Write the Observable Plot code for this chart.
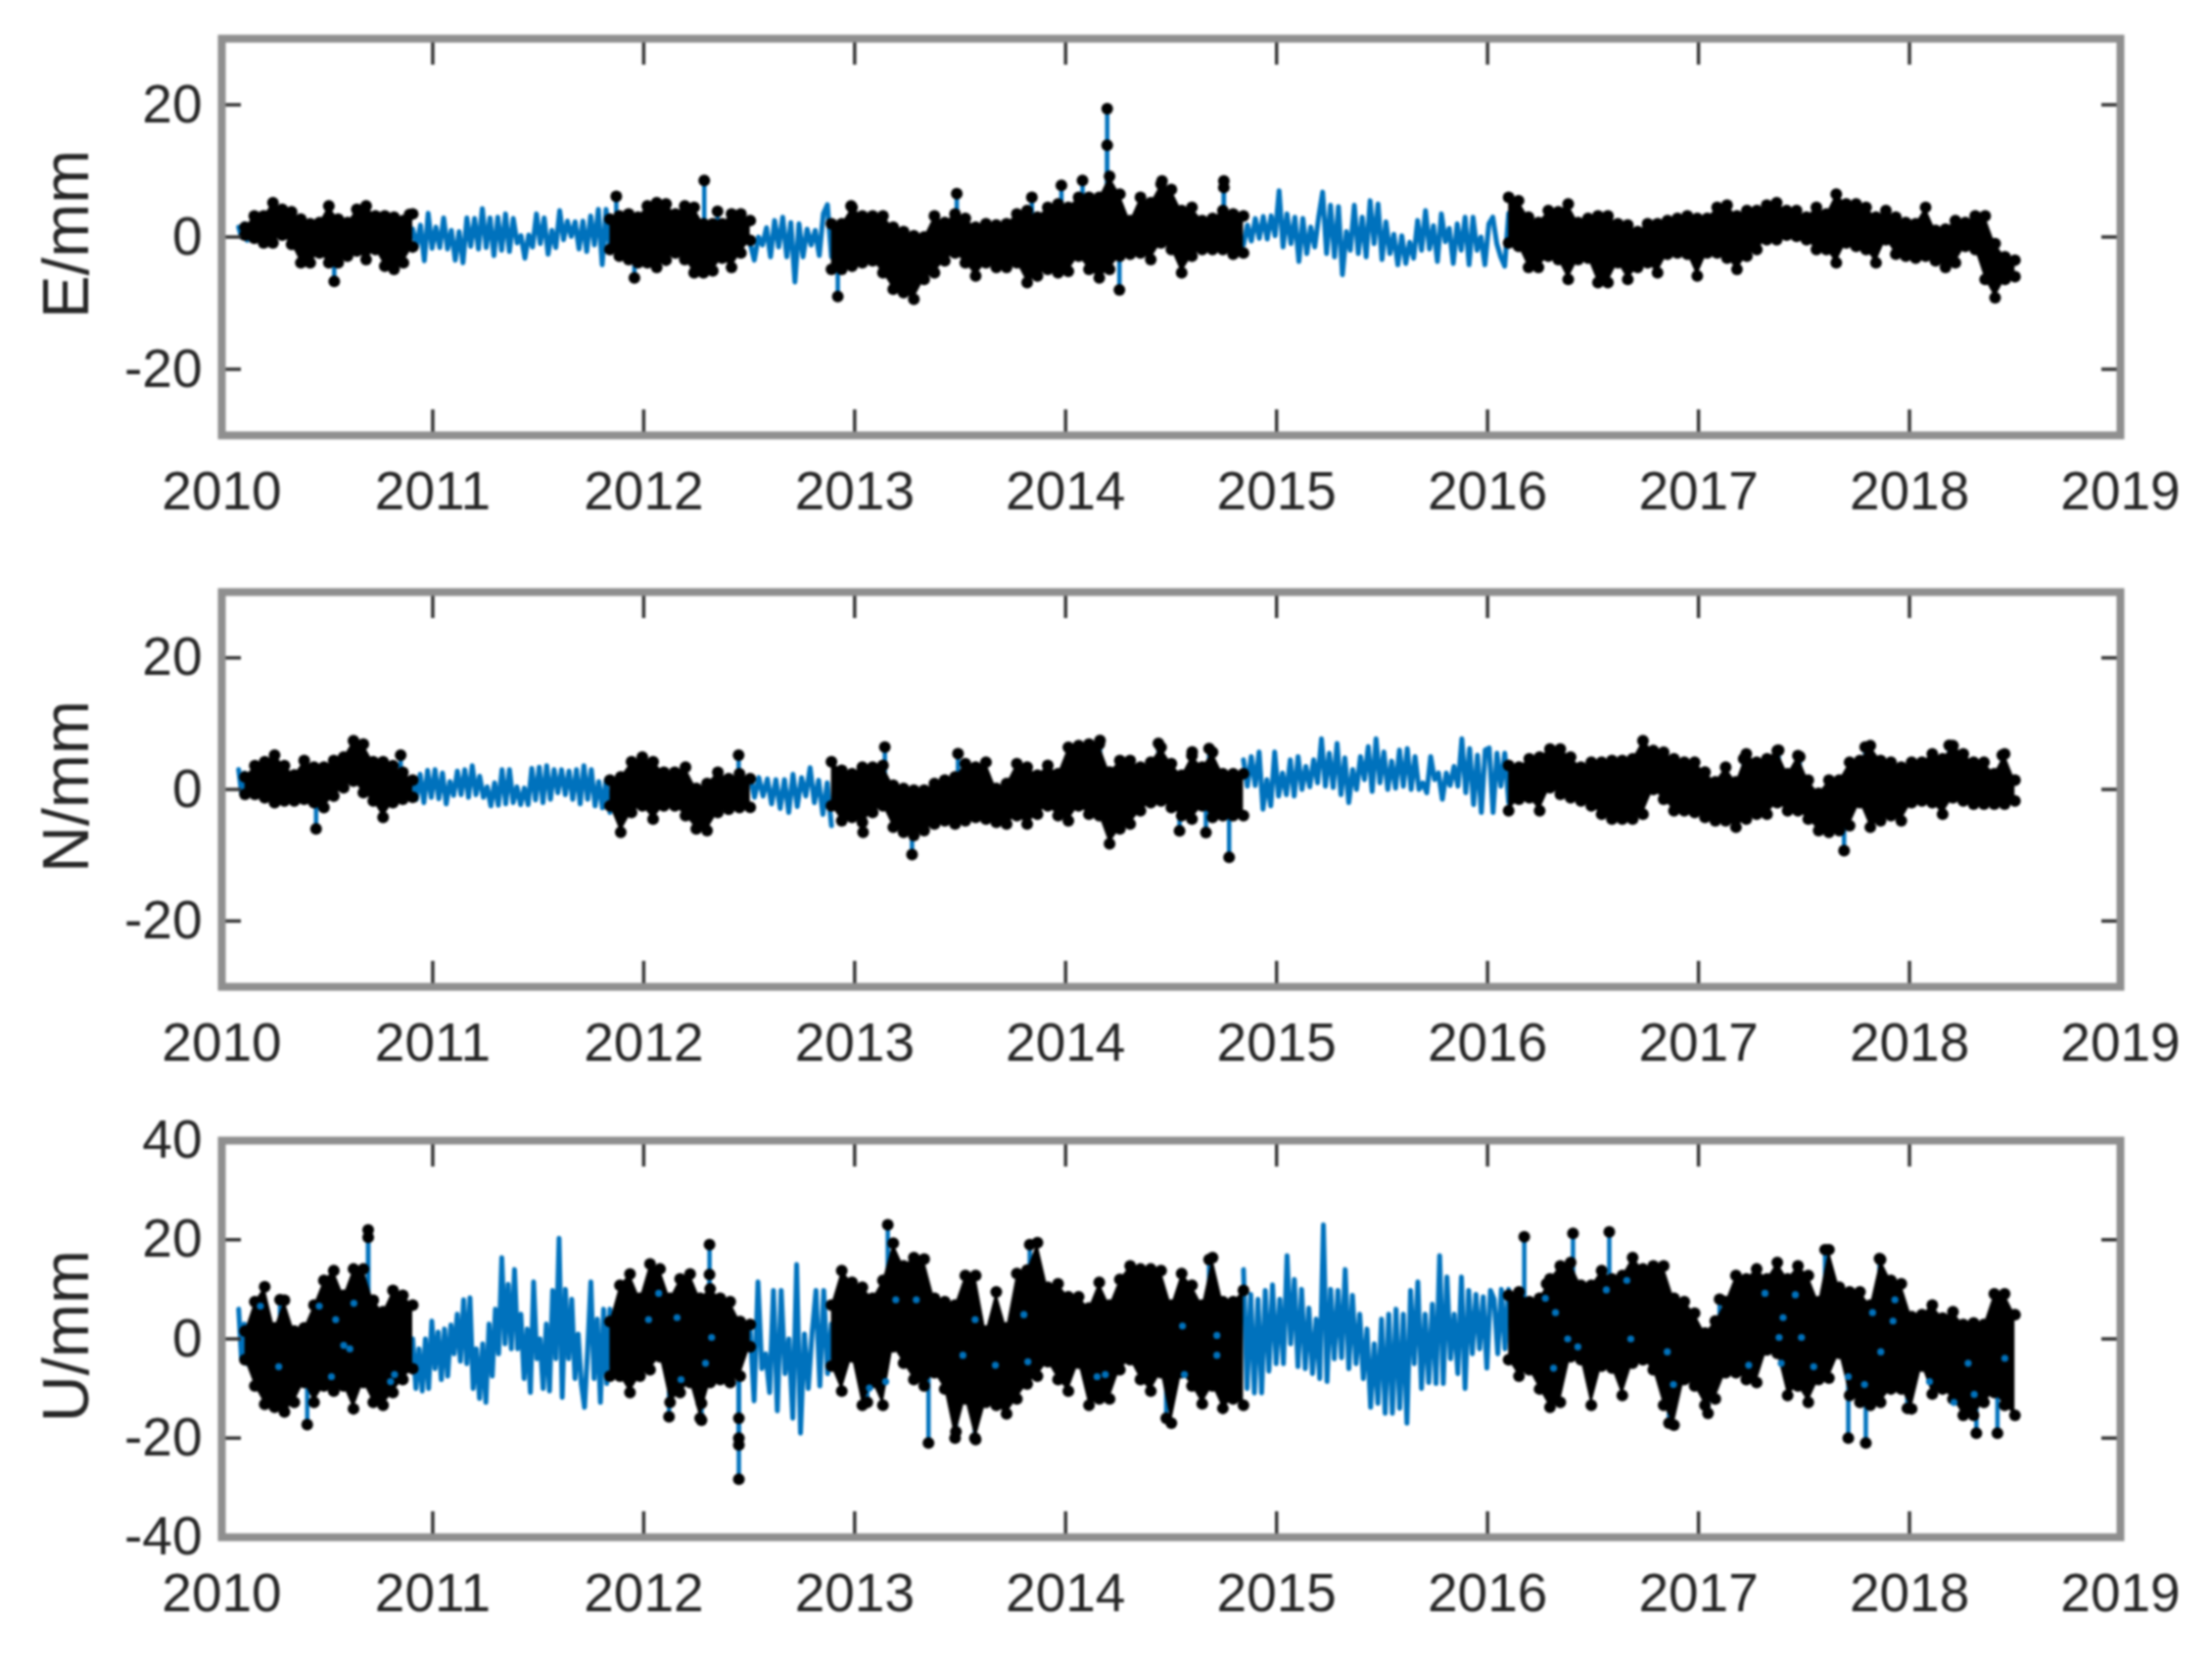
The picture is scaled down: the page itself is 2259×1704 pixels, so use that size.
<!DOCTYPE html>
<html>
<head>
<meta charset="utf-8">
<script src="https://cdn.jsdelivr.net/npm/d3@7"></script>
<script src="https://cdn.jsdelivr.net/npm/@observablehq/plot@0.6"></script>
<style>
html,body{margin:0;padding:0;background:#fff;}
#chart svg{display:block;filter:blur(1.3px);}
</style>
</head>
<body>
<div id="chart"></div>
<script>
// Time spans (decimal years) of the observed (black) and interpolated (blue) stretches
const blackStart = [2010.11, 2011.84, 2012.89, 2016.10];
const blackEnd   = [2010.905, 2012.505, 2014.843, 2018.5];
const blueStart  = [2010.08, 2010.905, 2012.505, 2014.843];
const blueEnd    = [2010.12, 2011.84, 2012.89, 2016.10];
const yearTicks  = [2010,2011,2012,2013,2014,2015,2016,2017,2018,2019];

// E/mm
const eHi = [
 [1.5,3.2,3.2,5.2,4.2,3.8,2.7,2,2.2,4.7,2.7,2.2,4.2,4.7,3.2,3.2,3.0,2.5,3.5],
 [2.7,3.2,3.5,3,4.7,5.2,5,3.5,4.7,4.5,2,2,2,3.5,3.5,2.5],
 [2,2,4.5,3.2,3.2,3.2,1.5,.8,.2,0,3.2,2.2,3.5,2.8,1.5,2,1.8,2,3.5,4,3,4.5,5,4.5,6,6,6,9.2,6.5,2.5,6,5.2,8,7.2,4,4.5,2.5,2.8,4,3.5,3.2],
 [6,5.5,3,2.2,4,3.8,5,2.2,2.8,3.2,3.2,2,1.8,.8,2,2,2.5,2.8,3.2,2.8,2.8,4.5,4.8,3.2,4,4,4.8,5.2,4,4,3,4.5,3.5,6.5,5,5,4.5,3,4,3,2.2,2,4.5,1,1.2,2.5,2.2,3.2,3.2,-1,-3,-3.5]
];
const eLo = [
 [.3,-.2,-.9,-.9,.3,-1.1,-3.9,-3.9,-2.4,-3.9,-3.9,-2.9,-2.1,-3.4,-1.9,-4.4,-4.9,-3.9,-1.5],
 [-1.9,-2.9,-3.4,-3.9,-3.9,-4.6,-3.5,-2.4,-3.4,-5.4,-5.4,-5.1,-3.2,-4.6,-2.4,-.5],
 [-4.9,-4.9,-4.4,-3.9,-3.6,-5.4,-7.9,-8.4,-9.4,-6.4,-5.4,-3.6,-2.4,-3.9,-5.9,-3.9,-4.6,-4.6,-3.9,-6.9,-5.9,-4.9,-5.4,-5.2,-2.9,-4.9,-6.2,-4.9,-2.9,-2.6,-2.4,-3.4,-.9,-1.9,-5.4,-2.9,-1.9,-1.9,-1.9,-2.6,-2.4],
 [-.9,-1.4,-4.6,-4.6,-2.9,-3.4,-6.4,-3.4,-3.2,-6.9,-6.9,-3.9,-6.4,-4.6,-3.9,-5.4,-2.6,-2.4,-2.6,-5.9,-2.4,-2.4,-3.2,-4.9,-2.9,-1.9,-.4,-.4,.3,.1,-.4,-1.9,-1.9,-3.9,-.9,-1.4,-1.9,-3.9,-.4,-2.6,-2.9,-3.2,-2.9,-3.6,-4.6,-3.9,-1.4,-1.9,-6.4,-9.2,-6.4,-6]
];
const eBlue = [
 [1.5,0,2,-.5],
 [1.2,-1.5,1.8,-3.6,3.6,-1.7,1.5,-1.6,2.9,-1.8,1.0,-3.5,0.8,-3.9,2.9,-1.4,2.8,-1.8,4.3,-1.6,2.9,-2.8,3.0,-2.0,3.5,-2.2,2.8,-0.9,0.2,-3.2,0.3,-1.5,3.5,-1.0,2.9,-2.6,1.0,-1.6,4.0,-0.4,2.4,0.1,2.3,-1.8,2.4,-2.2,3.2,-1.2,4.2,-4.2,4.2,-2.2],
 [-1,-3.5,0,-1.2,1.4,-3,2.5,-1.5,3,-3,2.2,-6.8,2,-3,1.2,-1.2,1,-2.8,3.5,4.9,-3],
 [-1.2,1.8,-0.6,2.8,-0.2,3.1,-0.3,3.2,0.2,7,-1.5,3.5,-1,3,-3.7,2.8,-2.5,1.5,-1.5,3,6.8,-2.5,4.8,-3,4.6,-5.7,0.8,-2,4.8,-2.5,3,-3,5.5,-1,5,-3.4,2.3,-2.5,0.4,-4.2,0.2,-4,-0.8,-3.2,2.5,-2,4,-1.8,1.7,-3.7,3.5,-0.7,1.3,-4,2,-2,3,-4.2,3,-2,0,-4.2,2,3,-1,-3,-4.4,3.6]
];
const eOutYears  = [2010.533,2010.89,2011.87,2011.956,2012.287,2012.35,2012.92,2012.983,2013.484,2013.84,2013.98,2014.08,2014.197,2014.197,2014.255,2014.457,2014.75,2014.75];
const eOutValues = [-6.7,3.4,6.15,-6.2,8.55,3.9,-9,4.7,6.55,6,7.8,8.55,19.4,13.9,-8,8.5,8.5,7.5];

// N/mm
const nHi = [
 [1.9,3.6,4.2,5.2,3.6,2.2,4.4,3.4,3.4,4.4,4.9,7.4,6.9,4.2,4.2,3.6,2.6,1.4],
 [1.4,1.9,4.2,4.9,4.2,2.6,2.6,3.4,.15,.9,2.6,1.65,2.4,1.65],
 [4.2,2.9,2.4,3.4,3.4,3.65,.65,.15,-.1,-.1,.9,1.4,1.9,3.9,3.4,4.15,.15,.9,3.9,3.4,2.15,3.65,2.4,6.4,6.65,6.9,6.9,2.65,4.4,4.4,3.4,4.15,6.4,3.9,2.15,5.15,3.4,5.65,2.4,2.4,2.4],
 [3.65,3.4,4.65,4.9,6.15,6.15,4.9,3.4,4.15,4.15,4.4,4.4,4.65,7.4,5.9,5.65,4.65,4.15,4.15,2.65,1.15,3.4,1.15,5.4,4.15,4.65,5.9,2.4,5.15,1.4,-.6,1.4,1.4,4.15,4.4,6.65,4.4,4.15,3.4,4.15,4.15,5.4,4.65,6.65,5.4,4.15,4.15,2.4,5.4,1.4]
];
const nLo = [
 [-.75,-.75,-1.25,-2,-1.75,-1.75,-1.5,-2,-2.75,-1,.25,1.25,-.5,-1.75,-4.25,-2,-1.5,-1.2],
 [-2.5,-6.5,-3.5,-2.5,-4.5,-2.5,-2.5,-4,-6,-6.25,-3.5,-3,-2.75,-2.7],
 [-2.5,-4.75,-4.25,-5,-3.5,-2.5,-5.75,-6.5,-7,-6.25,-5.25,-4.75,-5.25,-4.75,-4.25,-4.5,-5,-5.25,-4,-5.25,-3.75,-2.5,-4,-4.75,-2.5,-3.75,-4,-8.25,-6,-5.25,-3.25,-2,-1.75,-2.75,-4,-4.5,-2.5,-4.25,-4,-4,-4],
 [-3.25,-1.5,-1.25,-3.25,.25,-.75,-1.25,-1.75,-2.5,-3.75,-4.5,-4.5,-4.5,-3.75,0,-1.5,-3.25,-3.25,-3.5,-4.25,-4.75,-4.75,-5.75,-4.5,-3.75,-3.75,-2,-3.25,-3.25,-4.5,-6.25,-6.5,-6.25,-5.5,-2,-5.75,-4.75,-4,-4.75,-2,-1.75,-2,-3.75,-1.25,-1.75,-2.25,-2.25,-2.25,-2.25,-1.75]
];
const nBlue = [
 [3,-.5,2.5,0],
 [1.6,-1.5,2.3,-2,2.9,-1.2,3,-1.4,2.5,-2.2,1.2,-0.9,2.8,-0.8,3.0,-1.2,3.6,-0.8,2,-1.2,0.4,-2.5,1,-2.4,3,-2.2,3.0,-2.0,0.4,-2.3,0.2,-2.3,3.2,-1.6,3.4,-2.0,3.6,-1.5,3,-0.5,3,-0.8,2.8,-1.5,3,-2.2,3.6,-1.5,3,-2.5,1.2,-2.8,1.5,-3.5],
 [2,-1.2,1.8,-1,1.6,-2.2,1.5,-2.9,1.5,-3.5,2.3,-2.6,1.8,-1,3.3,-2,1.4,-3.8,1,-5.5],
 [4.5,0.5,5,0.6,5.7,-3,1.5,-2.5,5.7,-1,2.5,-0.8,4.5,-1,5,0,3.5,0.4,4.5,1,7.7,0.5,5.5,0.3,7,-0.8,4.8,-2,3,0,5,1.5,6.5,-0.3,7.7,1,5.7,0,4.3,0.2,6,0.5,6.2,0,5,0,1,-0.5,5,1.5,2.5,-1.5,2.5,0.6,3.5,0.5,7.7,-0.5,6.2,-2.3,5.2,-3.5,6,6.3,-3.5,5.5,0.5,5.5,-2]
];
const nOutYears  = [2010.447,2010.848,2012.45,2013.04,2013.143,2013.272,2013.49,2014.163,2014.44,2014.54,2014.6,2014.665,2014.68,2014.775,2017.214,2017.38,2017.48,2017.69,2017.79,2018.188,2018.44];
const nOutValues = [-6,5.2,5.2,-6.5,6.45,-9.9,5.45,7.45,7,-6.3,5.7,-6.55,6.2,-10.3,4.65,5.95,4.95,-9.3,6.45,6.7,5.2];

// U/mm
const uHi = [
 [1.6,7.5,10.5,2.2,7.8,1.6,2.2,6.8,11.8,13.8,8.8,14.1,14.1,7.8,5.5,9.8,8.8,6.8],
 [3.5,10.8,13.1,8.2,15.1,14.1,8.2,12.1,13.1,8.2,10.1,8.2,7.5,3.5,2.9],
 [6.8,13.8,11.4,10.4,8.2,11.8,19.3,14.7,16.4,16.1,8.2,7.5,6.8,12.8,12.8,1.6,9.5,2.2,13.2,13.9,19.4,10.4,11.1,8.5,8.5,6.2,11.4,6.8,12,14.7,14.1,14.1,13.8,6.8,13.2,10.8,6.8,16.4,7.5,7.5,9.8],
 [8.8,9.5,7.5,8.2,12.1,14.7,15.4,10.8,10.8,13.8,12.1,12.8,16.4,14.1,14.7,14.7,8.2,7.5,5.2,1.2,3.6,7.5,12.8,12.1,14.1,12.1,15.4,12.1,14.7,12.8,7.5,18.0,10.4,9.5,9.5,6.8,16,11.8,11.1,4.5,4.9,6.8,4.2,5.5,2.9,3.2,2.9,9.1,9.1,4.9]
];
const uLo = [
 [-4.2,-9.5,-13.2,-13.8,-14.7,-12.8,-8.8,-12.8,-9.5,-10.5,-9.5,-14.1,-8.8,-12.8,-13.4,-10.8,-8.2,-6],
 [-7.5,-7.5,-10.8,-7.5,-6.2,-3.6,-12.8,-10.8,-8.8,-16,-8.8,-8.2,-8.8,-7.5,-1.6],
 [-5.5,-10.5,-3.6,-13.4,-8.8,-13.4,-1.6,-4.9,-8.2,-9.5,-6.8,-10.1,-20,-12.1,-20.3,-12.8,-13.4,-15.1,-12.1,-9.1,-7.5,-4.6,-8.2,-10.5,-4.9,-13.4,-12.1,-12.1,-6.2,-4.2,-8.2,-10.5,-6.8,-17,-6.8,-9.5,-13.1,-9.5,-14,-12.1,-13.4],
 [-4.2,-7.5,-6.2,-10.1,-13.8,-12.8,-3.6,-4.2,-13.4,-5.5,-5.9,-11.4,-4.9,-4.2,-6.2,-13.4,-17.4,-8.2,-9.5,-13.4,-12.1,-6.8,-6.8,-8.2,-8.8,-2.2,-2.9,-11.4,-9.5,-12.8,-8.2,-7.9,-2.9,-11.4,-12.8,-13.4,-12.8,-10.1,-10.1,-14.1,-5.5,-11.1,-10.1,-12.1,-15.4,-15.4,-12.8,-10.8,-13.4,-15.4]
];
const uBlue = [
 [6,-4,3,-5],
 [0,-10,-2,-10.5,0,-10,3.6,-6,1.4,-8.2,2,-7.5,2.8,-3,5,-4.5,7.9,-5,8.3,-10,-2,-12,-1,-12.8,3,-7.5,6,-3,16.4,-1,11,-2,14,-2,5,-8,2,-10.8,11.5,-4,0,-10,3,-10.5,9.8,-4,20.3,-11.8,10,-4,8,-8,1,-9,-13.8,-2,11.5,-8,4,-12.8,6,-9,6],
 [2,-12.5,11.5,-6,-3,-10.8,9.8,-14.5,9.8,-7,0,-16,15,-19,1,-10,1.2,9.8,-9.5,9.8,-7,3],
 [14,-10,9,-10.9,8,-10.9,9.8,-6.5,10.9,-5,8,-5,16.8,-1,12,-5.6,10,-6,6.2,-7,4,-8,23,-8.6,10,-4,9.8,-3.8,14,-6,8.8,-5,5,-8,2,-13.8,-1,-13,4,-15,5,-15,6,-14,5,-17,9.8,-5,11.5,-10,5,-8.8,7,-9,16.8,-9,12.5,-4,5,-7,12.5,-10,9.8,-3,9,-2,8.5,-5.9,9.8,8,-3,10,-2,10]
];
const uOutYears  = [2010.276,2010.405,2010.694,2010.694,2012.12,2012.274,2012.274,2012.312,2012.312,2012.451,2012.451,2012.451,2012.451,2013.06,2013.157,2013.35,2013.48,2013.57,2013.83,2014.477,2014.68,2016.174,2016.28,2016.405,2016.577,2016.86,2017.045,2017.1,2017.6,2017.71,2017.793,2017.858,2017.99,2018.317,2018.417];
const uOutValues = [7.9,-17.3,22,20.5,-15.7,-16.4,-13,19,13,-16,-20,-21.4,-28.3,-12.8,23,-21,-18.7,-20,19,-16,16,20.6,11.1,21.3,21.6,-17,-15,8,18,-20,-21,16.2,-14,-19,-19];
const uSpeckYears  = [2010.183,2010.462,2010.54,2010.578,2010.607,2010.27,2010.52,2010.626,2010.8,2010.819,2012.023,2012.071,2012.158,2012.177,2012.293,2012.322,2013.195,2013.292,2013.571,2013.802,2013.821,2013.513,2013.667,2014.149,2014.188,2014.554,2014.717,2014.717,2013.07,2013.147,2014.563,2016.274,2016.322,2016.38,2016.428,2016.313,2016.679,2016.563,2016.66,2016.852,2016.881,2017.238,2017.315,2017.459,2017.401,2017.382,2017.488,2017.546,2017.392,2017.71,2017.787,2017.825,2017.864,2017.922,2017.931,2018.095,2018.278,2018.452,2018.211,2018.307];
const uSpeckValues = [6.6,6.6,3.9,-1.3,-2,-5.6,-7.6,7.2,-8.6,-7.2,3.9,9.2,4.3,-8.2,-4.9,.3,7.9,7.9,3.9,4.9,-4.6,-3.3,-5.3,-7.6,-7.2,2.6,.7,-3.3,-9.9,-8.6,-7.2,8.2,5.3,0,-1.6,-5.9,0,9.9,11.8,-2.6,-9.2,-5.3,9.2,8.9,4.3,.3,.3,-5.6,-4.9,-7.6,-9.2,5.3,-2.6,3.6,7.9,-8.6,-4.9,-3.9,-12.8,-11.2];

const BLUE = "#0072BD", FRAME = "#8f8f8f", TEXT = "#262626", TICK = "#333333";
const FONT = "'Liberation Sans', Arial, sans-serif";

function panel({label, domain, yTicks, hi, lo, blue, outYears, outValues, speckYears = [], speckValues = [], height, marginTop, marginBottom}) {
  const columns = blackStart.flatMap((s, k) => hi[k].map((h, i) => ({
    seg: k,
    year: s + i * (blackEnd[k] - s) / (hi[k].length - 1),
    hi: h,
    lo: lo[k][Math.round(i * (lo[k].length - 1) / (hi[k].length - 1))]
  })));
  const blueRows = blueStart.flatMap((s, k) => blue[k].map((v, i) => ({
    seg: k,
    year: s + i * (blueEnd[k] - s) / (blue[k].length - 1),
    value: v
  })));
  const outliers = outYears.map((y, i) => ({year: y, value: outValues[i]}));
  const specks = speckYears.map((y, i) => ({year: y, value: speckValues[i]}));
  return Plot.plot({
    width: 2259, height, marginLeft: 226, marginRight: 94, marginTop, marginBottom,
    style: {background: "#fff", fontFamily: FONT},
    x: {domain: [2010, 2019]},
    y: {domain},
    marks: [
      Plot.line(blueRows, {x: "year", y: "value", z: "seg", stroke: BLUE, strokeWidth: 5, curve: "linear"}),
      Plot.ruleX(outliers, {x: "year", y1: 0, y2: "value", stroke: BLUE, strokeWidth: 4.5}),
      Plot.areaY(columns, {x: "year", y1: "lo", y2: "hi", z: "seg", fill: "#000", curve: "linear"}),
      Plot.dot(columns, {x: "year", y: "hi", r: 6, fill: "#000"}),
      Plot.dot(columns, {x: "year", y: "lo", r: 6, fill: "#000"}),
      Plot.dot(outliers, {x: "year", y: "value", r: 6, fill: "#000"}),
      Plot.dot(specks, {x: "year", y: "value", r: 3.6, fill: BLUE}),
      Plot.axisX({anchor: "bottom", ticks: yearTicks, tickFormat: d => String(d), tickSize: -26, tickPadding: 62, strokeWidth: 3.5, stroke: TICK, fill: TEXT, fontSize: 55, label: null}),
      Plot.axisX({anchor: "top", ticks: yearTicks, tickFormat: () => "", tickSize: -26, strokeWidth: 3.5, stroke: TICK, label: null}),
      Plot.axisY({anchor: "left", ticks: yTicks, tickFormat: d => String(d), tickSize: -20, tickPadding: 40, strokeWidth: 3.5, stroke: TICK, fill: TEXT, fontSize: 55, label: null}),
      Plot.axisY({anchor: "right", ticks: yTicks, tickFormat: () => "", tickSize: -20, strokeWidth: 3.5, stroke: TICK, label: null}),
      Plot.text([label], {frameAnchor: "left", textAnchor: "middle", rotate: -90, dx: -158, dy: -3, fontSize: 66, fill: TEXT}),
      Plot.frame({stroke: FRAME, strokeWidth: 8})
    ]
  });
}

const chart = document.getElementById("chart");
chart.appendChild(panel({label: "E/mm", domain: [-30, 30], yTicks: [-20, 0, 20], hi: eHi, lo: eLo, blue: eBlue, outYears: eOutYears, outValues: eOutValues, height: 560, marginTop: 39, marginBottom: 116}));
chart.appendChild(panel({label: "N/mm", domain: [-30, 30], yTicks: [-20, 0, 20], hi: nHi, lo: nLo, blue: nBlue, outYears: nOutYears, outValues: nOutValues, height: 560, marginTop: 44, marginBottom: 113}));
chart.appendChild(panel({label: "U/mm", domain: [-40, 40], yTicks: [-40, -20, 0, 20, 40], hi: uHi, lo: uLo, blue: uBlue, outYears: uOutYears, outValues: uOutValues, speckYears: uSpeckYears, speckValues: uSpeckValues, height: 584, marginTop: 44, marginBottom: 135}));
</script>
</body>
</html>
